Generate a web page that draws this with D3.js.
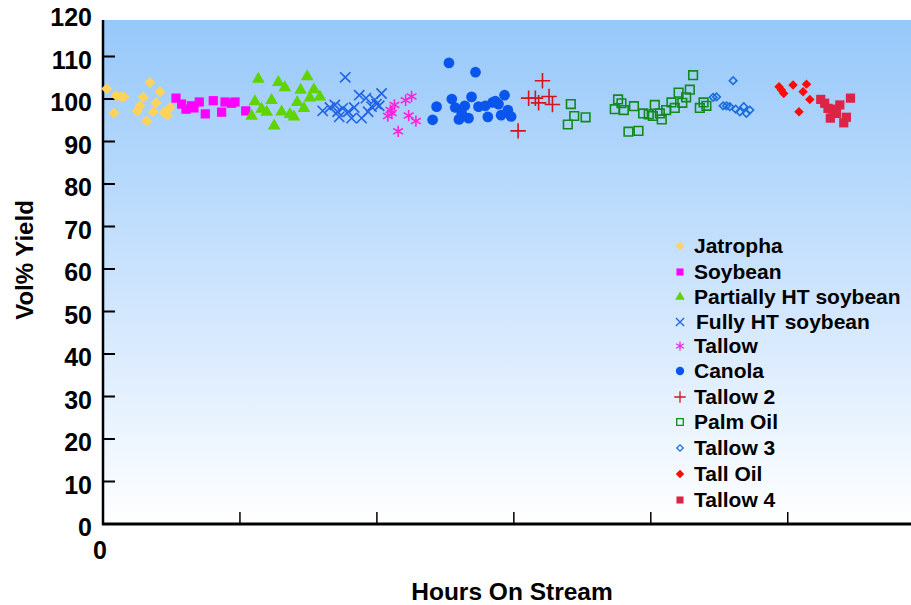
<!DOCTYPE html>
<html>
<head>
<meta charset="utf-8">
<script src="https://cdn.jsdelivr.net/npm/d3@7"></script>
<style>
  body { margin: 0; background: #fff; }
  text { font-family: "Liberation Sans", Arial, sans-serif; font-weight: bold; }
</style>
</head>
<body>
<svg id="chart"></svg>
<script>
// Set up the SVG dimensions
const width = 911;
const height = 605;

// Data: [hours on stream, vol% yield]
const jatropha = [[27,102.4],[95,100.8],[129,100.5],[153,100.5],[80,96.7],[343,103.9],[294,100.4],[416,101.7],
  [270,98.4],[250,97.2],[387,99.1],[367,97.0],[319,94.8],[445,96.8],[469,96.2],[489,98.0]];
const soybean = [[533,100.2],[574,98.8],[606,97.6],[647,98.4],[664,97.9],[703,99.3],[747,96.5],[805,99.6],
  [866,96.9],[891,99.3],[939,99.0],[964,99.3],[1042,97.2]];
const partiallyHT = [[1134,104.7],[1280,103.9],[1491,105.3],[1328,102.7],[1443,102.1],[1540,102.2],[1584,100.5],
  [1511,100.3],[1109,99.4],[1231,99.7],[1418,99.2],[1467,97.8],[1158,97.6],[1195,96.9],[1304,97.0],
  [1085,96.0],[1365,96.4],[1394,95.8],[1250,93.7]];
const fullyHT = [[1769,105.1],[1871,100.9],[1920,100.2],[2034,101.3],[1985,99.8],[1604,97.2],[1657,98.0],
  [1693,98.6],[1713,97.0],[1750,97.8],[1791,97.0],[1834,98.0],[1725,95.8],[1815,95.5],[1888,95.5],
  [1936,97.0],[1961,98.2],[1997,98.8],[2017,98.4]];
const tallow = [[2253,100.6],[2210,99.7],[2128,98.6],[2099,97.4],[2080,96.0],[2232,96.1],[2285,94.8],
  [2155,92.4],[2109,96.7]];
const canola = [[2526,108.5],[2720,106.3],[2436,98.2],[2407,95.1],[2547,100.0],[2572,98.0],[2642,98.4],
  [2691,100.5],[2620,96.6],[2599,95.2],[2669,95.5],[2742,98.2],[2791,98.4],[2845,99.2],[2888,98.8],
  [2864,99.5],[2932,100.9],[2810,95.8],[2907,96.2],[2956,97.4],[2980,95.9]];
const tallow2 = [[3209,104.3],[3108,100.2],[3157,100.2],[3181,99.1],[3257,100.6],[3282,98.7],[3031,92.5]];
const palmOil = [[3416,98.8],[3441,96.0],[3524,95.7],[3394,94.0],[3761,99.9],[3737,97.6],[3786,99.0],
  [3803,97.4],[3877,98.3],[3837,92.3],[3910,92.5],[3944,96.6],[3985,96.4],[4029,98.6],[4015,96.0],
  [4066,96.6],[4080,95.2],[4112,97.4],[4151,99.2],[4175,97.9],[4203,101.5],[4230,99.1],[4258,100.4],
  [4285,102.2],[4309,105.6],[4358,97.9],[4385,99.2],[4406,98.4]];
const tallow3 = [[4601,104.3],[4455,100.4],[4480,100.5],[4528,98.4],[4553,98.4],[4577,98.2],[4620,97.6],
  [4650,97.0],[4679,98.2],[4698,96.6],[4723,97.4]];
const tallOil = [[4936,102.9],[4954,102.1],[4971,101.3],[5039,103.3],[5137,103.5],[5112,101.7],
  [5161,99.9],[5082,97.0]];
const tallow4 = [[5241,99.9],[5270,99.0],[5294,97.8],[5380,98.6],[5458,100.2],[5355,96.6],[5311,95.5],
  [5428,95.7],[5409,94.4],[5330,97.6]];

const seriesNames = ["Jatropha", "Soybean", "Partially HT soybean", "Fully HT soybean", "Tallow", "Canola",
  "Tallow 2", "Palm Oil", "Tallow 3", "Tall Oil", "Tallow 4"];
const seriesData = [jatropha, soybean, partiallyHT, fullyHT, tallow, canola, tallow2, palmOil, tallow3, tallOil, tallow4];

const yTicks = [0, 10, 20, 30, 40, 50, 60, 70, 80, 90, 100, 110, 120];
const xTicks = [1000, 2000, 3000, 4000, 5000];

// marker styles per series
const styles = [
  { type: d3.symbolSquare, size: 60, legendSize: 36, rotate: 45, fill: "#FFD35A", stroke: "none" },
  { type: d3.symbolSquare, size: 85, legendSize: 50, fill: "#FF00FF", stroke: "none" },
  { type: d3.symbolTriangle, size: 70, legendSize: 40, fill: "#5FD400", stroke: "none" },
  { type: d3.symbolTimes, size: 70, legendSize: 45, fill: "none", stroke: "#1F62E6", sw: 1.6 },
  { type: d3.symbolAsterisk, size: 90, legendSize: 55, fill: "none", stroke: "#FF22DD", sw: 1.6 },
  { type: d3.symbolCircle, size: 90, legendSize: 55, fill: "#0A55EE", stroke: "none" },
  { type: d3.symbolPlus, size: 80, legendSize: 45, fill: "none", stroke: "#D4141C", sw: 1.6 },
  { type: d3.symbolSquare2, size: 95, legendSize: 55, fill: "none", stroke: "#118A1A", sw: 1.6 },
  { type: d3.symbolSquare2, size: 36, legendSize: 26, rotate: 45, fill: "none", stroke: "#1A6CDC", sw: 1.6 },
  { type: d3.symbolSquare, size: 45, legendSize: 36, rotate: 45, fill: "#FF0A0A", stroke: "none" },
  { type: d3.symbolSquare, size: 85, legendSize: 50, fill: "#DD2447", stroke: "none" }
];

const svg = d3.select("#chart")
  .attr("width", width)
  .attr("height", height);

// scales
const x = d3.scaleLinear().domain([0, 5900]).range([103, 911]);
const y = d3.scaleLinear().domain([0, 120]).range([524, 14]);
const plotTop = 20;

// background gradient
const grad = svg.append("defs").append("linearGradient")
  .attr("id", "bg")
  .attr("x1", 0).attr("y1", 0).attr("x2", 0).attr("y2", 1);
grad.append("stop").attr("offset", "0%").attr("stop-color", "#96C8FA");
grad.append("stop").attr("offset", "55%").attr("stop-color", "#CFE5FD");
grad.append("stop").attr("offset", "100%").attr("stop-color", "#FFFFFF");

svg.append("rect")
  .attr("x", x(0))
  .attr("y", plotTop)
  .attr("width", x(5900) - x(0))
  .attr("height", y(0) - plotTop)
  .attr("fill", "url(#bg)");

// y tick marks (inside)
svg.selectAll(".ytick")
  .data(yTicks.filter(d => d > 0 && d < 120))
  .enter()
  .append("line")
  .attr("x1", x(0)).attr("x2", x(0) + 12)
  .attr("y1", d => y(d)).attr("y2", d => y(d))
  .attr("stroke", "black")
  .attr("stroke-width", 2);

// y tick labels
svg.selectAll(".ylabel")
  .data(yTicks)
  .enter()
  .append("text")
  .attr("x", 92)
  .attr("y", d => y(d) + 12)
  .attr("text-anchor", "end")
  .attr("font-size", 25)
  .text(d => d);

// x tick marks (inside, pointing up)
svg.selectAll(".xtick")
  .data(xTicks)
  .enter()
  .append("line")
  .attr("x1", d => x(d)).attr("x2", d => x(d))
  .attr("y1", y(0)).attr("y2", y(0) - 12)
  .attr("stroke", "black")
  .attr("stroke-width", 1.5);

// axis lines
svg.append("line")
  .attr("x1", x(0)).attr("x2", x(0))
  .attr("y1", plotTop).attr("y2", y(0) + 1)
  .attr("stroke", "black").attr("stroke-width", 2.5);
svg.append("line")
  .attr("x1", x(0) - 1).attr("x2", width)
  .attr("y1", y(0)).attr("y2", y(0))
  .attr("stroke", "black").attr("stroke-width", 3);

// x "0" label
svg.append("text")
  .attr("x", 100).attr("y", 559)
  .attr("text-anchor", "middle")
  .attr("font-size", 25)
  .text("0");

// axis titles
svg.append("text")
  .attr("x", 512).attr("y", 600)
  .attr("text-anchor", "middle")
  .attr("font-size", 24.5)
  .text("Hours On Stream");

svg.append("text")
  .attr("transform", "translate(33,260) rotate(-90)")
  .attr("text-anchor", "middle")
  .attr("font-size", 24)
  .text("Vol% Yield");

function markerTransform(px, py, st) {
  let t = `translate(${px},${py})`;
  if (st.rotate) t += ` rotate(${st.rotate})`;
  return t;
}

// draw points
seriesData.forEach((data, i) => {
  const st = styles[i];
  const sym = d3.symbol().type(st.type).size(st.size);
  svg.append("g")
    .selectAll("path")
    .data(data)
    .enter()
    .append("path")
    .attr("d", sym)
    .attr("transform", d => markerTransform(x(d[0]), y(d[1]), st))
    .attr("fill", st.fill)
    .attr("stroke", st.stroke)
    .attr("stroke-width", st.sw || 0);
});

// legend
const legendY = [246, 272, 297, 322, 346, 371, 397, 422, 448, 474, 500];
const legend = svg.append("g");
seriesNames.forEach((name, i) => {
  const st = styles[i];
  const sym = d3.symbol().type(st.type).size(st.legendSize);
  legend.append("path")
    .attr("d", sym)
    .attr("transform", markerTransform(680, legendY[i], st))
    .attr("fill", st.fill)
    .attr("stroke", st.stroke)
    .attr("stroke-width", st.sw ? 1.3 : 0);
  legend.append("text")
    .attr("x", i === 3 ? 696 : 694)
    .attr("y", legendY[i] + 7)
    .attr("font-size", 21)
    .text(name);
});
</script>
</body>
</html>
